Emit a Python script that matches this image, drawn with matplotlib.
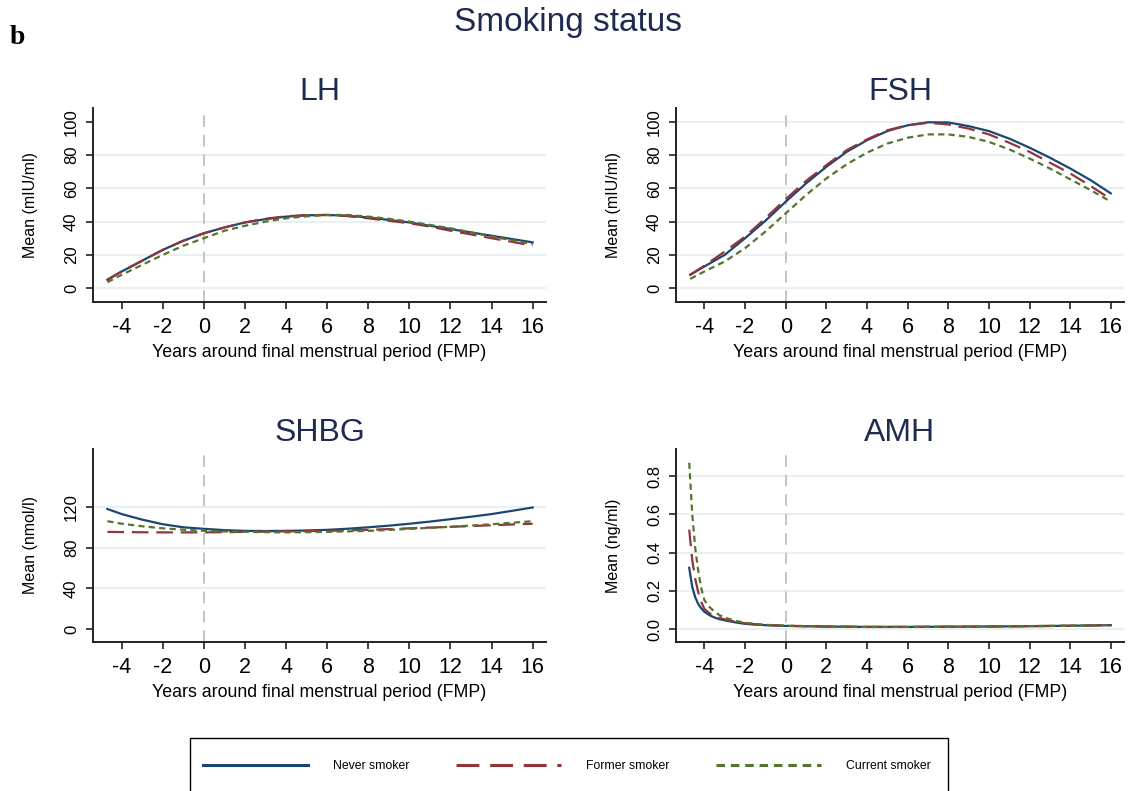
import matplotlib
matplotlib.use("Agg")
import matplotlib.pyplot as plt
from matplotlib.patches import Rectangle

plt.rcParams["font.family"] = ["Liberation Sans", "DejaVu Sans"]

# years around FMP at which the fitted curves are read
years = [-4.7, -4, -3, -2, -1, 0, 1, 2, 3, 4, 5, 6, 7, 8, 9, 10, 11, 12, 13, 14, 15, 16]

lh_never = [5, 10, 16.5, 23, 28.5, 33, 36.5, 39.5, 41.5, 43, 43.8, 44, 43.5, 42.5, 41, 39.5, 37.5, 35.5, 33.5, 31.5, 29.5, 27.5]
lh_former = [5, 10, 16.5, 23, 28.5, 33, 36.5, 39.5, 41.7, 43.2, 43.9, 44, 43.3, 42, 40.5, 39, 37, 34.5, 32.3, 30, 27.8, 25.5]
lh_current = [3.5, 8, 14, 20, 25.5, 30, 34.5, 37.5, 40, 42, 43.2, 44, 44, 43, 41.7, 40, 38, 36, 33.5, 31, 28.8, 26.5]

fsh_never = [8, 13, 20, 30, 40.5, 52, 63, 73, 82, 89, 94.5, 98, 99.8, 99.7, 97.5, 94.5, 90, 84.5, 78.5, 72, 65, 57]
fsh_former = [8, 13.5, 22, 31, 42, 53.5, 64.5, 74, 83, 89.5, 95, 98, 99.5, 98.5, 96, 92.5, 87.5, 82, 75.5, 69, 61.5, 53.5]
fsh_current = [5.5, 10, 16, 24, 34, 45, 56, 66, 74.5, 81.5, 87, 90.5, 92.5, 92.5, 91, 88, 83.5, 78, 72, 65.5, 59, 52]

shbg_never = [118, 113, 107.5, 103, 100, 98.5, 97.2, 96.5, 96.3, 96.5, 96.9, 97.5, 98.6, 100, 101.6, 103.5, 105.6, 108, 110.4, 113, 116.2, 119.5]
shbg_former = [95.5, 95.3, 95.1, 95, 95, 95, 95.2, 95.5, 95.7, 96, 96.2, 96.5, 97, 97.5, 98.2, 99, 99.7, 100.5, 101.2, 102, 102.8, 103.5]
shbg_current = [106, 103.5, 101, 99, 97.6, 96.5, 95.9, 95.5, 95.2, 95, 95.2, 95.5, 96, 96.5, 97.4, 98.5, 99.5, 100.5, 101.7, 103, 104.5, 106]

# AMH falls steeply right after the first visit, so it is read on a finer grid
amh_years = [-4.75, -4.6, -4.45, -4.3, -4.15, -4, -3.75, -3.5, -3.25, -3, -2.5, -2, -1.5, -1, 0, 2, 4, 6, 8, 10, 12, 14, 16]
amh_never = [0.32, 0.22, 0.165, 0.13, 0.107, 0.09, 0.072, 0.06, 0.051, 0.045, 0.035, 0.027, 0.023, 0.02, 0.016, 0.013, 0.011, 0.011, 0.012, 0.013, 0.015, 0.017, 0.02]
amh_former = [0.52, 0.36, 0.26, 0.19, 0.14, 0.105, 0.082, 0.068, 0.058, 0.05, 0.038, 0.03, 0.025, 0.021, 0.017, 0.013, 0.011, 0.011, 0.012, 0.013, 0.015, 0.017, 0.02]
amh_current = [0.87, 0.6, 0.42, 0.3, 0.21, 0.15, 0.115, 0.09, 0.072, 0.06, 0.043, 0.033, 0.027, 0.022, 0.017, 0.013, 0.011, 0.011, 0.012, 0.013, 0.015, 0.017, 0.021]

groups = ["Never smoker", "Former smoker", "Current smoker"]
colors = ["#1a476f", "#90353b", "#55752f"]
dashes = [None, (7.5, 3.5), (2.8, 1.9)]

panels = [
    ("LH", "Mean (mIU/ml)", years, [lh_never, lh_former, lh_current],
     [0, 20, 40, 60, 80, 100], ["0", "20", "40", "60", "80", "100"], (-8.4, 108.4), [0, 20, 40, 60, 80]),
    ("FSH", "Mean (mIU/ml)", years, [fsh_never, fsh_former, fsh_current],
     [0, 20, 40, 60, 80, 100], ["0", "20", "40", "60", "80", "100"], (-8.4, 108.4), [0, 20, 40, 60, 80, 100]),
    ("SHBG", "Mean (nmol/l)", years, [shbg_never, shbg_former, shbg_current],
     [0, 40, 80, 120], ["0", "40", "80", "120"], (-12.8, 177), [40, 80, 120]),
    ("AMH", "Mean (ng/ml)", amh_years, [amh_never, amh_former, amh_current],
     [0, 0.2, 0.4, 0.6, 0.8], ["0.0", "0.2", "0.4", "0.6", "0.8"], (-0.068, 0.942), [0, 0.2, 0.4, 0.6, 0.8]),
]

xticks = list(range(-4, 17, 2))
title_col = "#1e2a50"

W, H = 1141, 791
fig = plt.figure(figsize=(W / 100, H / 100), dpi=100)
# panel frames in pixels: left, top, right, bottom
boxes = [
    (93, 108, 546, 302),
    (676, 108, 1124, 302),
    (93, 449, 546, 642),
    (676, 449, 1124, 642),
]

handles = []
for (name, ylab, xs, series, yt, ytl, ylim, grid), (x0, y0, x1, y1) in zip(panels, boxes):
    ax = fig.add_axes([x0 / W, 1 - y1 / H, (x1 - x0) / W, (y1 - y0) / H])
    for g in grid:
        ax.axhline(g, color="#e8f0f2", lw=1.6, zorder=0)
    ax.axvline(0, color="#c4c4c4", lw=1.4, dashes=(6, 4), zorder=1)
    handles = []
    for ys, c, d, lbl in zip(series, colors, dashes, groups):
        kw = dict(color=c, lw=1.6, label=lbl, zorder=3)
        if d is not None:
            kw["dashes"] = d
        ln, = ax.plot(xs, ys, **kw)
        handles.append(ln)
    ax.set_xlim(-5.4, 16.65)
    ax.set_ylim(*ylim)
    ax.set_xticks(xticks)
    ax.set_xticklabels([str(t) for t in xticks], fontsize=15.5)
    ax.set_yticks(yt)
    ax.set_yticklabels(ytl, fontsize=12, rotation=90, va="center")
    ax.tick_params(direction="out", length=5, width=1.2, color="#222222")
    ax.tick_params(axis="x", pad=6)
    ax.tick_params(axis="y", pad=5)
    for s in ("top", "right"):
        ax.spines[s].set_visible(False)
    for s in ("left", "bottom"):
        ax.spines[s].set_linewidth(1.4)
        ax.spines[s].set_color("#222222")
    ax.set_xlabel("Years around final menstrual period (FMP)", fontsize=12.8, labelpad=4)
    ax.set_ylabel(ylab, fontsize=11.5, labelpad=19)
    ax.set_title(name, fontsize=23, color=title_col, pad=6)

fig.text(0.498, 1 - 23 / H, "Smoking status", ha="center", va="center",
         fontsize=24, color=title_col)
fig.text(10 / W, 1 - 37 / H, "b", ha="left", va="center", fontsize=20,
         fontweight="bold", family=["Liberation Serif", "DejaVu Serif"])

# legend box runs off the bottom edge
fig.add_artist(Rectangle((190 / W, -0.05), (948 - 190) / W, 0.05 + 1 - 738 / H,
                         transform=fig.transFigure, facecolor="white",
                         edgecolor="black", lw=1.0))
leg = fig.legend(handles=handles, labels=groups, ncol=3, loc="center left",
                 bbox_to_anchor=(203 / W, 1 - 766 / H), fontsize=8.8,
                 handlelength=8.6, handletextpad=2.05, columnspacing=3.8,
                 borderpad=0, borderaxespad=0, frameon=False)
for ln in leg.get_lines():
    ln.set_linewidth(2.2)

fig.savefig("out.png", dpi=100)
